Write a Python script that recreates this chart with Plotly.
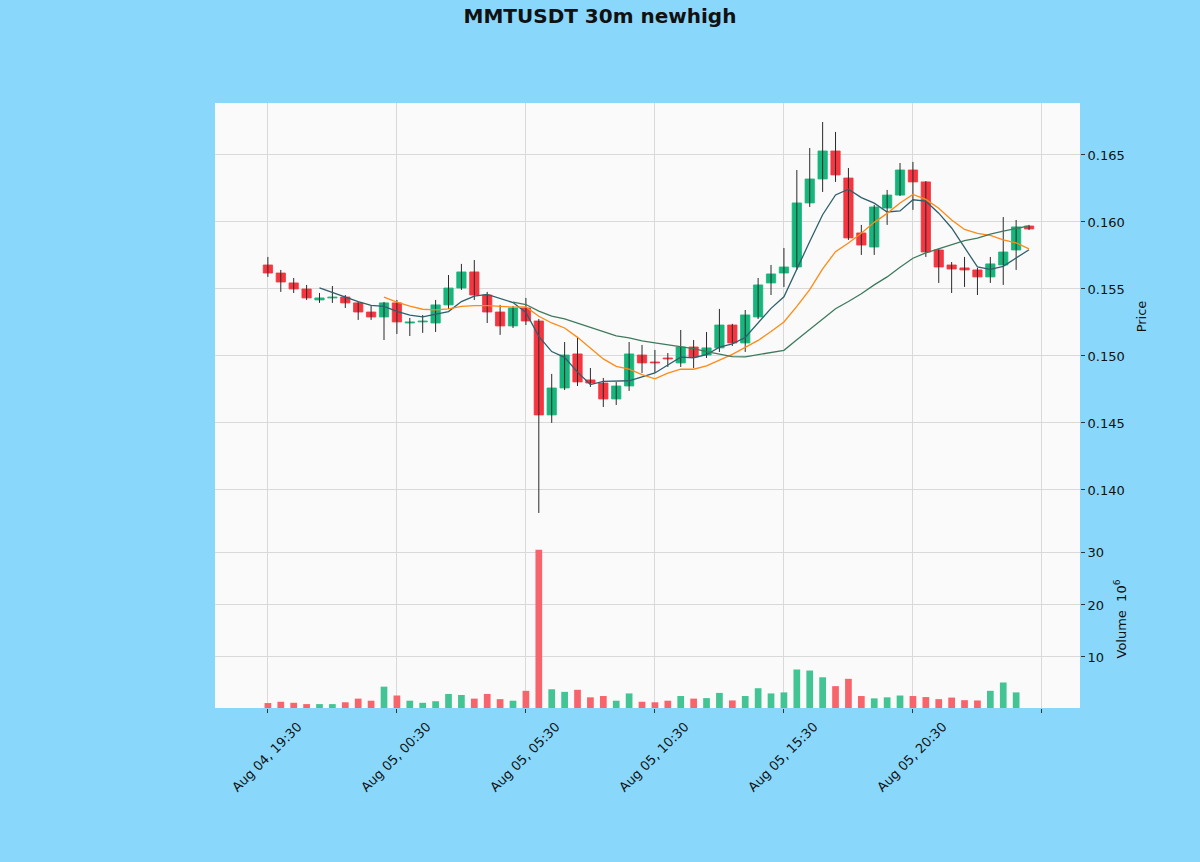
import pandas as pd
import plotly.graph_objects as go
from plotly.subplots import make_subplots

# ── data: MMTUSDT 30m candles ─────────────────────────────────────────────────
START = "2025-08-04 19:30"
opens = [0.15679, 0.15619, 0.15545, 0.15500, 0.15418, 0.15433, 0.15440, 0.15396, 0.15328, 0.15291,
         0.15396, 0.15246, 0.15254, 0.15246, 0.15381, 0.15507, 0.15627, 0.15455, 0.15328, 0.15224,
         0.15358, 0.15261, 0.14560, 0.14761, 0.15015, 0.14821, 0.14798, 0.14679, 0.14776, 0.15007,
         0.14955, 0.14985, 0.14948, 0.15067, 0.15007, 0.15060, 0.15231, 0.15097, 0.15291, 0.15545,
         0.15619, 0.15664, 0.16142, 0.16321, 0.16530, 0.16328, 0.15918, 0.15813, 0.16104, 0.16201,
         0.16388, 0.16299, 0.15791, 0.15679, 0.15657, 0.15642, 0.15590, 0.15679, 0.15791, 0.15970]
highs = [0.15739, 0.15642, 0.15582, 0.15530, 0.15470, 0.15522, 0.15455, 0.15403, 0.15373, 0.15403,
         0.15418, 0.15284, 0.15306, 0.15418, 0.15604, 0.15687, 0.15716, 0.15478, 0.15381, 0.15373,
         0.15433, 0.15276, 0.14866, 0.15104, 0.15142, 0.14910, 0.14836, 0.14806, 0.15104, 0.15082,
         0.15045, 0.15022, 0.15194, 0.15119, 0.15179, 0.15351, 0.15240, 0.15343, 0.15582, 0.15679,
         0.15806, 0.16388, 0.16552, 0.16746, 0.16672, 0.16403, 0.15978, 0.16127, 0.16239, 0.16440,
         0.16448, 0.16305, 0.15800, 0.15701, 0.15739, 0.15657, 0.15739, 0.16037, 0.16015, 0.15978]
lows = [0.15590, 0.15478, 0.15470, 0.15418, 0.15396, 0.15396, 0.15358, 0.15269, 0.15269, 0.15119,
        0.15164, 0.15149, 0.15172, 0.15179, 0.15351, 0.15493, 0.15418, 0.15246, 0.15157, 0.15209,
        0.15231, 0.13828, 0.14500, 0.14746, 0.14776, 0.14769, 0.14619, 0.14634, 0.14739, 0.14873,
        0.14873, 0.14918, 0.14918, 0.14910, 0.14985, 0.15030, 0.15075, 0.15030, 0.15276, 0.15455,
        0.15515, 0.15642, 0.16112, 0.16224, 0.16299, 0.15866, 0.15754, 0.15754, 0.15978, 0.16194,
        0.16090, 0.15739, 0.15545, 0.15470, 0.15515, 0.15455, 0.15545, 0.15530, 0.15642, 0.15940]
closes = [0.15619, 0.15552, 0.15500, 0.15433, 0.15433, 0.15440, 0.15396, 0.15328, 0.15291, 0.15396,
          0.15254, 0.15254, 0.15261, 0.15381, 0.15507, 0.15627, 0.15455, 0.15328, 0.15224, 0.15358,
          0.15261, 0.14560, 0.14761, 0.15007, 0.14806, 0.14798, 0.14679, 0.14776, 0.15015, 0.14948,
          0.14948, 0.14978, 0.15067, 0.14993, 0.15060, 0.15231, 0.15097, 0.15306, 0.15530, 0.15612,
          0.15664, 0.16142, 0.16321, 0.16530, 0.16351, 0.15881, 0.15828, 0.16112, 0.16201, 0.16388,
          0.16299, 0.15776, 0.15664, 0.15649, 0.15642, 0.15590, 0.15687, 0.15776, 0.15963, 0.15948]
volumes = [1.15, 1.4, 1.2, 0.95, 0.95, 0.95, 1.3, 2.0, 1.6, 4.3,
           2.6, 1.6, 1.2, 1.5, 2.9, 2.7, 2.0, 2.9, 1.9, 1.6,
           3.5, 30.6, 3.8, 3.3, 3.7, 2.25, 2.5, 1.6, 3.0, 1.4,
           1.3, 1.6, 2.5, 2.0, 2.1, 3.1, 1.65, 2.5, 4.0, 3.0,
           3.2, 7.6, 7.4, 6.1, 4.4, 5.8, 2.5, 2.05, 2.25, 2.6,
           2.5, 2.3, 1.9, 2.2, 1.7, 1.65, 3.5, 5.1, 3.2, 0.2]   # millions
MAVS = [5, 10, 20]
PRICE_TICKS = [0.140, 0.145, 0.150, 0.155, 0.160, 0.165]
VOL_TICKS = [10, 20, 30]

# ── colours ───────────────────────────────────────────────────────────────────
UP, DOWN = "#16b57c", "#f5353f"
VUP, VDOWN = "#43c495", "#f7646b"
WICK = "#2b2b2b"
MA_COLORS = ["#2f5f6c", "#ff8a14", "#3f7a5e"]
FIG_BG = "#89d8fc"
AX_BG = "#fafafa"
GRID = "#d9d9d9"

df = pd.DataFrame(dict(o=opens, h=highs, l=lows, c=closes, v=volumes))
df["t"] = pd.date_range(START, periods=len(df), freq="30min")
xs = list(range(len(df)))
up = df["c"] >= df["o"]

fig = make_subplots(rows=2, cols=1, shared_xaxes=True, vertical_spacing=0,
                    row_heights=[427, 178])

# wicks
wx, wy = [], []
for i, r in df.iterrows():
    wx += [i, i, None]
    wy += [r.l, r.h, None]
fig.add_trace(go.Scatter(x=wx, y=wy, mode="lines", line=dict(color=WICK, width=1),
                         hoverinfo="skip", showlegend=False), row=1, col=1)

# bodies
body_col = [UP if u else DOWN for u in up]
fig.add_trace(go.Bar(
    x=xs, y=(df["c"] - df["o"]).abs(), base=df[["o", "c"]].min(axis=1),
    width=0.72, marker=dict(color=body_col, line=dict(color=body_col, width=0.8)),
    showlegend=False,
), row=1, col=1)

# moving averages
for m, col in zip(MAVS, MA_COLORS):
    fig.add_trace(go.Scatter(x=xs, y=df["c"].rolling(m).mean(), mode="lines",
                             line=dict(color=col, width=1.3), showlegend=False),
                  row=1, col=1)

# volume
fig.add_trace(go.Bar(
    x=xs, y=df["v"], width=0.52,
    marker=dict(color=[VUP if u else VDOWN for u in up], line=dict(width=0)),
    showlegend=False,
), row=2, col=1)

# ── axes / layout ─────────────────────────────────────────────────────────────
tickvals = list(range(0, len(df) + 1, 10))
ticktext = [df["t"][i].strftime("%b %d, %H:%M") if i < len(df) else " " for i in tickvals]

axis_common = dict(showgrid=True, gridcolor=GRID, zeroline=False,
                   showline=False, ticks="outside", ticklen=4, tickcolor="#333",
                   tickfont=dict(size=13, color="#111"))

fig.update_xaxes(**axis_common, range=[-4.1, 62.95], tickvals=tickvals,
                 ticktext=ticktext, gridwidth=1.4)
fig.update_xaxes(showticklabels=False, ticks="", row=1, col=1)
fig.update_xaxes(tickangle=-45, ticklabelshift=30, ticklabelstandoff=1, row=2, col=1)

fig.update_yaxes(**axis_common, side="right", gridwidth=1)
fig.update_yaxes(range=[0.13701, 0.16888], tickvals=PRICE_TICKS,
                 ticktext=[f"{v:.3f}" for v in PRICE_TICKS],
                 title=dict(text="Price", font=dict(size=13), standoff=13),
                 row=1, col=1)
fig.update_yaxes(range=[0.2, 34.4], tickvals=VOL_TICKS,
                 title=dict(text="Volume  10<sup>6</sup>", font=dict(size=13), standoff=13),
                 row=2, col=1)

fig.update_layout(
    width=1200, height=862,
    paper_bgcolor=FIG_BG, plot_bgcolor=AX_BG,
    font=dict(family="DejaVu Sans", color="#111"),
    title=dict(text="<b>MMTUSDT 30m newhigh</b>", x=0.5, xanchor="center",
               y=1 - 16 / 862, yanchor="middle", yref="container",
               font=dict(size=20, color="#111")),
    margin=dict(l=215, r=120, t=103, b=154),
    barmode="overlay", showlegend=False,
)

fig.write_html("out.html", config={"displayModeBar": False},
               post_script="document.body.style.margin='0';")
